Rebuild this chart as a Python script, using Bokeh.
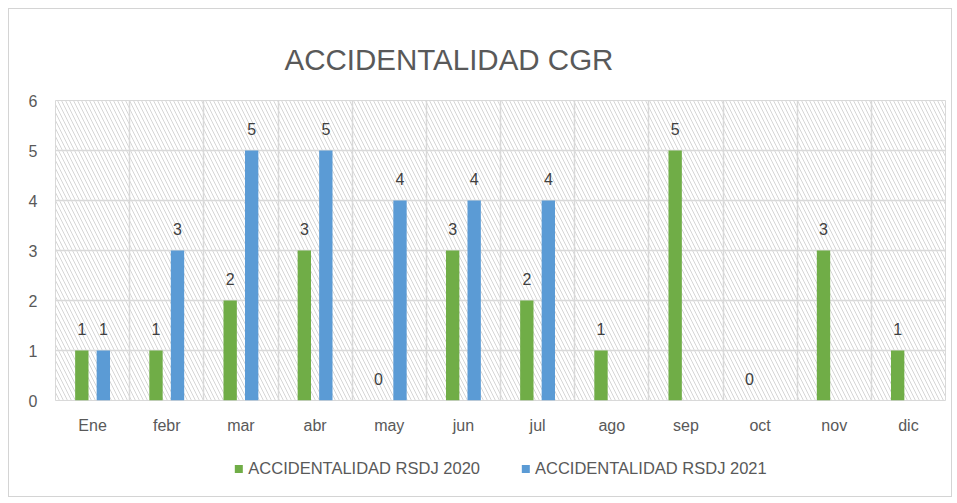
from bokeh.plotting import figure
from bokeh.layouts import column
from bokeh.models import (ColumnDataSource, FactorRange, Range1d, FixedTicker, LabelSet,
                          Legend, LegendItem, BoxAnnotation)
from bokeh.core.properties import value
from bokeh.transform import dodge
from bokeh.embed import file_html
from bokeh.resources import INLINE

chart_title = "ACCIDENTALIDAD CGR"
months = ["Ene", "febr", "mar", "abr", "may", "jun", "jul", "ago", "sep", "oct", "nov", "dic"]
series_2020 = "ACCIDENTALIDAD RSDJ 2020"
series_2021 = "ACCIDENTALIDAD RSDJ 2021"
values_2020 = [1, 1, 2, 3, 0, 3, 2, 1, 5, 0, 3, 1]
months_2021 = ["Ene", "febr", "mar", "abr", "may", "jun", "jul"]
values_2021 = [1, 3, 5, 5, 4, 4, 4]
y_ticks = [0, 1, 2, 3, 4, 5, 6]

GREEN = "#70ad47"
BLUE = "#5b9bd5"
GRID = "#d9d9d9"
TEXT = "#595959"
FONT = "Liberation Sans"

src20 = ColumnDataSource(dict(month=months, value=values_2020, label=[str(v) for v in values_2020]))
src21 = ColumnDataSource(dict(month=months_2021, value=values_2021, label=[str(v) for v in values_2021]))

p = figure(frame_width=890, frame_height=300, x_range=FactorRange(factors=months),
           y_range=Range1d(y_ticks[0], y_ticks[-1]),
           output_backend="svg", toolbar_location=None,
           min_border_left=46, min_border_right=6, min_border_top=91, min_border_bottom=40)

p.title.text = chart_title
p.title.align = "left"
p.title.offset = 229
p.title.text_font = FONT
p.title.text_font_size = "29.5px"
p.title.text_font_style = "normal"
p.title.text_color = TEXT
p.title.standoff = 50

p.background_fill_color = "white"
p.border_fill_color = "white"
p.outline_line_color = GRID

hatch = BoxAnnotation(fill_alpha=0, line_alpha=0, hatch_pattern="\\", hatch_color="#d6d6d6",
                      hatch_scale=8, hatch_weight=1, level="image")
p.add_layout(hatch)

p.ygrid.ticker = FixedTicker(ticks=y_ticks)
p.ygrid.grid_line_color = GRID
p.ygrid.grid_line_width = 1.5
p.xgrid.ticker = FixedTicker(ticks=list(range(len(months) + 1)))
p.xgrid.grid_line_color = GRID
p.xgrid.grid_line_width = 1.5

r20 = p.vbar(x=dodge("month", -0.145, range=p.x_range), top="value", width=0.18,
             source=src20, fill_color=GREEN, line_color=None)
r21 = p.vbar(x=dodge("month", 0.145, range=p.x_range), top="value", width=0.18,
             source=src21, fill_color=BLUE, line_color=None)

for src, off in ((src20, -0.145), (src21, 0.145)):
    p.add_layout(LabelSet(x=dodge("month", off, range=p.x_range), y="value", text="label",
                          source=src, y_offset=22, text_align="center", text_baseline="middle",
                          text_font=value(FONT), text_font_size=value("16px"),
                          text_color="#404040"))

p.yaxis.ticker = FixedTicker(ticks=y_ticks)
for ax in (p.xaxis[0], p.yaxis[0]):
    ax.axis_line_color = None
    ax.major_tick_line_color = None
    ax.minor_tick_line_color = None
    ax.major_tick_out = 0
    ax.major_tick_in = 0
    ax.major_label_text_font = FONT
    ax.major_label_text_font_size = "16px"
    ax.major_label_text_color = TEXT
p.yaxis.major_label_standoff = 18
p.xaxis.major_label_standoff = 16

# legend strip below the chart (zero-size key glyphs carry the series colours)
lg = figure(width=942, height=56, x_range=Range1d(0, 1), y_range=Range1d(0, 1),
            output_backend="svg", toolbar_location=None,
            min_border=0, min_border_left=0, min_border_right=0, min_border_top=0, min_border_bottom=0)
lg.axis.visible = False
lg.grid.visible = False
lg.outline_line_color = None
lg.background_fill_color = "white"
lg.border_fill_color = "white"
key_src = ColumnDataSource(dict(x=[0.5], top=[0.0]))
k20 = lg.vbar(x="x", top="top", bottom=0, width=0, source=key_src, fill_color=GREEN, line_color=None)
k21 = lg.vbar(x="x", top="top", bottom=0, width=0, source=key_src, fill_color=BLUE, line_color=None)
legend = Legend(items=[LegendItem(label=series_2020, renderers=[k20]),
                       LegendItem(label=series_2021, renderers=[k21])],
                orientation="horizontal", location="center",
                border_line_alpha=0, background_fill_alpha=0,
                label_text_font=FONT, label_text_font_size="16.5px", label_text_color=TEXT,
                glyph_width=10, glyph_height=10, spacing=40, label_standoff=5,
                padding=4, margin=0)
lg.add_layout(legend)

layout = column(p, lg, spacing=0)
layout.styles = {"border": "1px solid #d4d4d4", "margin-left": "8px", "margin-top": "8px"}

open("out.html", "w").write(file_html(layout, INLINE))
